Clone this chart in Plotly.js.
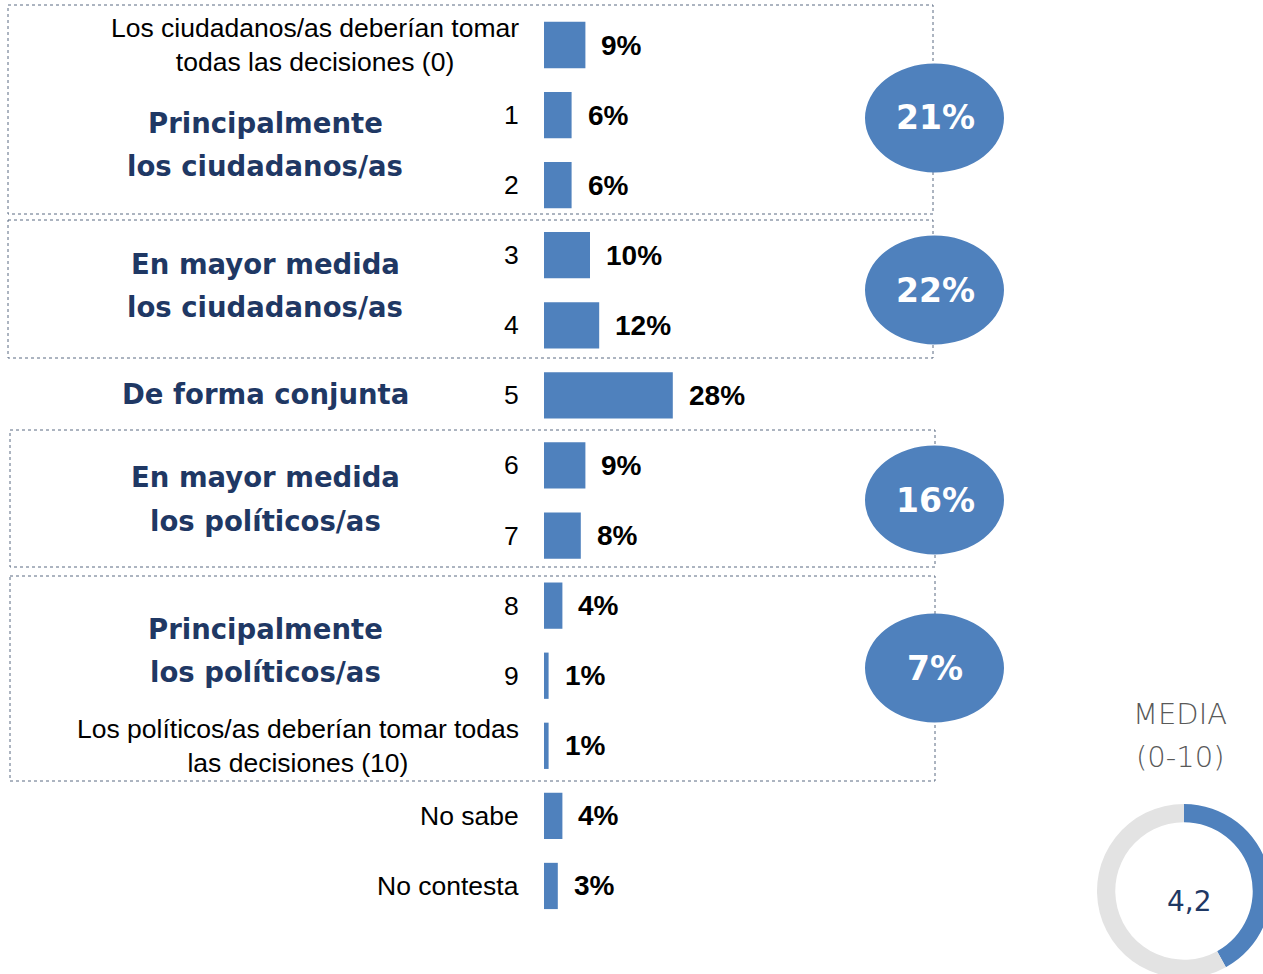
<!DOCTYPE html>
<html><head><meta charset="utf-8">
<script src="https://cdn.plot.ly/plotly-3.0.1.min.js"></script>
<style>html,body{margin:0;padding:0;overflow:hidden;background:#fff}#chart{width:1280px;height:990px}</style>
</head><body><div id="chart"></div>
<script>
// ---- data ----
const categories = [
  'Los ciudadanos/as deberían tomar<br>todas las decisiones (0)',
  '1','2','3','4','5','6','7','8','9',
  'Los políticos/as deberían tomar todas<br>las decisiones (10)',
  'No sabe','No contesta'
];
const values = [9, 6, 6, 10, 12, 28, 9, 8, 4, 1, 1, 4, 3];
const groupLines = [
  ['Principalmente', 'los ciudadanos/as'],
  ['En mayor medida', 'los ciudadanos/as'],
  ['De forma conjunta'],
  ['En mayor medida', 'los políticos/as'],
  ['Principalmente', 'los políticos/as']
];
const groupTotals = [21, 22, 16, 7];
const mediaLines = ['MEDIA', '(0-10)'];
const mediaValue = 4.2;
const mediaMax = 10;

// ---- layout helpers (pixel -> paper) ----
const W = 1280, H = 990;
const px = x => x / W;
const py = y => 1 - y / H;
const rowTop = 45, rowStep = 70.08;
const blue = '#4F81BD', navy = '#1F3864';
const groupFont = 'DejaVu Sans, sans-serif';

const trace = {
  type: 'bar', orientation: 'h',
  y: categories, x: values,
  marker: {color: blue, line: {width: 0}},
  width: 0.66,
  hoverinfo: 'skip', xaxis: 'x', yaxis: 'y'
};

const donut = {
  type: 'pie',
  values: [mediaValue, mediaMax - mediaValue],
  marker: {colors: [blue, '#E3E3E3'], line: {width: 0}},
  hole: 0.79, sort: false, direction: 'clockwise', rotation: 0,
  textinfo: 'none', hoverinfo: 'skip', showlegend: false,
  domain: {x: [px(1097), px(1271)], y: [py(978), py(804)]}
};

const annotations = [];
// category labels
categories.forEach(c => annotations.push({
  xref: 'paper', yref: 'y', x: px(521), y: c, xanchor: 'right', yanchor: 'middle',
  align: 'center', text: c, showarrow: false,
  font: {family: 'Arial, Liberation Sans, sans-serif', size: 26.5, color: '#000'}
}));
// value labels
values.forEach((v, i) => annotations.push({
  xref: 'x', yref: 'y', x: v, y: categories[i], xanchor: 'left', yanchor: 'middle',
  xshift: 14, text: v + '%', showarrow: false,
  font: {family: 'Arial, Liberation Sans, sans-serif', size: 28, color: '#000', weight: 'bold'}
}));
// group labels
const groupCenters = [144.5, 285.5, 394, 499, 650];
groupLines.forEach((lines, g) => {
  lines.forEach((t, k) => {
    const off = lines.length === 1 ? 0 : (k === 0 ? -21.5 : 21.5);
    annotations.push({
      xref: 'paper', yref: 'paper', x: px(265), y: py(groupCenters[g] + off),
      xanchor: 'center', yanchor: 'middle', text: t, showarrow: false,
      font: {family: groupFont, size: 27.5, color: navy, weight: 'bold'}
    });
  });
});
// boxes and ellipses
const ellipseCenters = [118, 290, 500, 668];
const shapes = [];
const boxes = [[8, 5, 933, 214], [8, 220, 933, 358], [10, 430, 935, 567], [10, 576, 935, 781]];
boxes.forEach(b => shapes.push({
  type: 'rect', xref: 'paper', yref: 'paper',
  x0: px(b[0]), x1: px(b[2]), y0: py(b[1]), y1: py(b[3]),
  line: {color: '#5B6B82', width: 1, dash: 'dot'}, fillcolor: 'rgba(0,0,0,0)', layer: 'below'
}));
groupTotals.forEach((t, i) => {
  const cy = ellipseCenters[i];
  shapes.push({
    type: 'circle', xref: 'paper', yref: 'paper',
    x0: px(865), x1: px(1004), y0: py(cy + 54.5), y1: py(cy - 54.5),
    fillcolor: blue, line: {width: 0}, layer: 'above'
  });
  annotations.push({
    xref: 'paper', yref: 'paper', x: px(935), y: py(cy), xanchor: 'center', yanchor: 'middle',
    text: t + '%', showarrow: false,
    font: {family: groupFont, size: 33, color: '#fff', weight: 'bold'}
  });
});
// media
const mediaY = [714, 757];
mediaLines.forEach((t, k) => annotations.push({
  xref: 'paper', yref: 'paper', x: px(1180), y: py(mediaY[k]), xanchor: 'center', yanchor: 'middle',
  text: t, showarrow: false,
  font: {family: groupFont, size: 29, color: '#595959', weight: 200}
}));
annotations.push({
  xref: 'paper', yref: 'paper', x: px(1189), y: py(901), xanchor: 'center', yanchor: 'middle',
  text: String(mediaValue).replace('.', ','), showarrow: false,
  font: {family: groupFont, size: 28, color: navy}
});

const layout = {
  width: W, height: H,
  margin: {l: 0, r: 0, t: 0, b: 0, pad: 0},
  paper_bgcolor: '#fff', plot_bgcolor: 'rgba(0,0,0,0)',
  showlegend: false,
  xaxis: {domain: [px(544), px(1004)], range: [0, 100], visible: false, fixedrange: true},
  yaxis: {domain: [0, 1], type: 'category', range: [(H - rowTop) / rowStep, -rowTop / rowStep],
          visible: false, fixedrange: true},
  annotations: annotations,
  shapes: shapes
};

Plotly.newPlot('chart', [trace, donut], layout, {displayModeBar: false, staticPlot: true});
</script>
</body></html>
